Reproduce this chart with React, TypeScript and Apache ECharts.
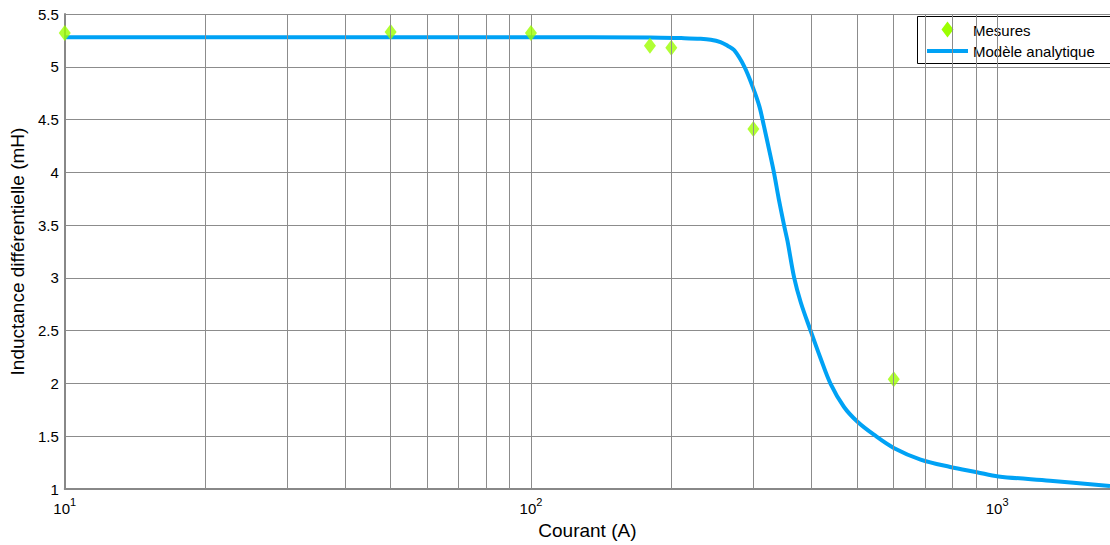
import React, { useEffect, useRef } from "react";
import * as echarts from "echarts";

const MEASURE_X = [10, 50, 100, 180, 200, 300, 600];
const MEASURE_Y = [5.32, 5.33, 5.32, 5.2, 5.18, 4.41, 2.04];

const MODEL_X = [10, 100, 180, 210, 231, 243, 255, 264, 273, 287, 299, 309, 316, 324, 332, 340, 349, 355, 367, 379, 398, 418, 439, 469, 501, 544, 600, 685, 793, 905, 1006, 1298, 1746];
const MODEL_Y = [5.28, 5.28, 5.278, 5.272, 5.266, 5.257, 5.234, 5.2, 5.156, 5.0, 4.81, 4.625, 4.44, 4.22, 4.0, 3.75, 3.5, 3.35, 3.0, 2.77, 2.5, 2.24, 2.0, 1.78, 1.64, 1.515, 1.39, 1.28, 1.21, 1.16, 1.12, 1.08, 1.03];

const MINOR_X = [20, 30, 40, 50, 60, 70, 80, 90, 200, 300, 400, 500, 600, 700, 800, 900];

const X_MIN = 10;
const X_MAX = 1746;
const Y_MIN = 1;
const Y_MAX = 5.5;
const Y_STEP = 0.5;

const FONT = "'Liberation Sans', Arial, sans-serif";
const GRID = "#8c8c8c";

export default function App() {
  const ref = useRef<HTMLDivElement>(null);
  useEffect(() => {
    if (!ref.current) return;
    const chart = echarts.init(ref.current, undefined, { renderer: "svg" });
    const lx = 917, ly = 16;
    chart.setOption({
      animation: false,
      backgroundColor: "#fff",
      textStyle: { fontFamily: FONT },
      grid: { left: 63, top: 14, right: 0, bottom: 52, containLabel: false },
      xAxis: {
        type: "log",
        logBase: 10,
        min: X_MIN,
        max: X_MAX,
        name: "Courant (A)",
        nameLocation: "middle",
        nameGap: 29,
        nameTextStyle: { fontSize: 19, color: "#000", fontFamily: FONT },
        axisLine: { lineStyle: { color: "#888", width: 2 } },
        axisTick: { show: false },
        splitLine: { show: true, lineStyle: { color: GRID, width: 1 } },
        axisLabel: {
          showMaxLabel: false,
          margin: 7,
          formatter: (v: number) => {
            const e = Math.log10(v);
            const r = Math.round(e);
            if (Math.abs(e - r) > 1e-6) return "";
            return `{b|10}{s|${r}}`;
          },
          rich: {
            b: { fontSize: 15, color: "#000", fontFamily: FONT, lineHeight: 20, verticalAlign: "bottom" },
            s: { fontSize: 11, color: "#000", fontFamily: FONT, lineHeight: 20, verticalAlign: "top" },
          },
        },
      },
      yAxis: {
        type: "value",
        min: Y_MIN,
        max: Y_MAX,
        interval: Y_STEP,
        name: "Inductance différentielle (mH)",
        nameLocation: "middle",
        nameGap: 37,
        nameTextStyle: { fontSize: 19, color: "#000", fontFamily: FONT },
        axisLine: { show: true, lineStyle: { color: "#888", width: 2 } },
        axisTick: { show: false },
        splitLine: { show: true, lineStyle: { color: GRID, width: 1 } },
        axisLabel: { fontSize: 15, color: "#000", margin: 6, fontFamily: FONT },
      },
      series: [
        {
          type: "line",
          data: [],
          z: 1,
          silent: true,
          markLine: {
            silent: true,
            symbol: ["none", "none"],
            label: { show: false },
            lineStyle: { color: GRID, width: 1, type: "solid" },
            emphasis: { disabled: true },
            data: MINOR_X.map((v) => ({ xAxis: v })),
          },
        },
        {
          name: "Modèle analytique",
          type: "line",
          z: 3,
          showSymbol: false,
          smooth: 0.35,
          lineStyle: { color: "#00a2f5", width: 4, join: "round" },
          itemStyle: { color: "#00a2f5" },
          data: MODEL_X.map((x, i) => [x, MODEL_Y[i]]),
        },
        {
          name: "Mesures",
          type: "scatter",
          z: 4,
          symbol: "diamond",
          symbolSize: [12, 16],
          itemStyle: { color: "#9cff00" },
          data: MEASURE_X.map((x, i) => [x, MEASURE_Y[i]]),
        },
      ],
      graphic: [
        {
          type: "group",
          z: 100,
          children: [
            { type: "rect", shape: { x: lx + 0.5, y: ly + 0.5, width: 220, height: 47 }, style: { fill: "#fff", stroke: "#000", lineWidth: 1 } },
            { type: "polygon", shape: { points: [[947.5, 21.5], [953.5, 29.5], [947.5, 37.5], [941.5, 29.5]] }, style: { fill: "#9cff00" } },
            { type: "line", shape: { x1: 927, y1: 51, x2: 968, y2: 51 }, style: { stroke: "#00a2f5", lineWidth: 4 } },
            { type: "text", x: 973, y: 30, style: { text: "Mesures", fontSize: 15, fontFamily: FONT, fill: "#000", verticalAlign: "middle" } },
            { type: "text", x: 973, y: 51, style: { text: "Modèle analytique", fontSize: 15, fontFamily: FONT, fill: "#000", verticalAlign: "middle" } },
          ],
        },
      ],
    });
    return () => chart.dispose();
  }, []);
  return <div ref={ref} style={{ position: "absolute", left: 0, top: 0, width: 1110, height: 545 }} />;
}
